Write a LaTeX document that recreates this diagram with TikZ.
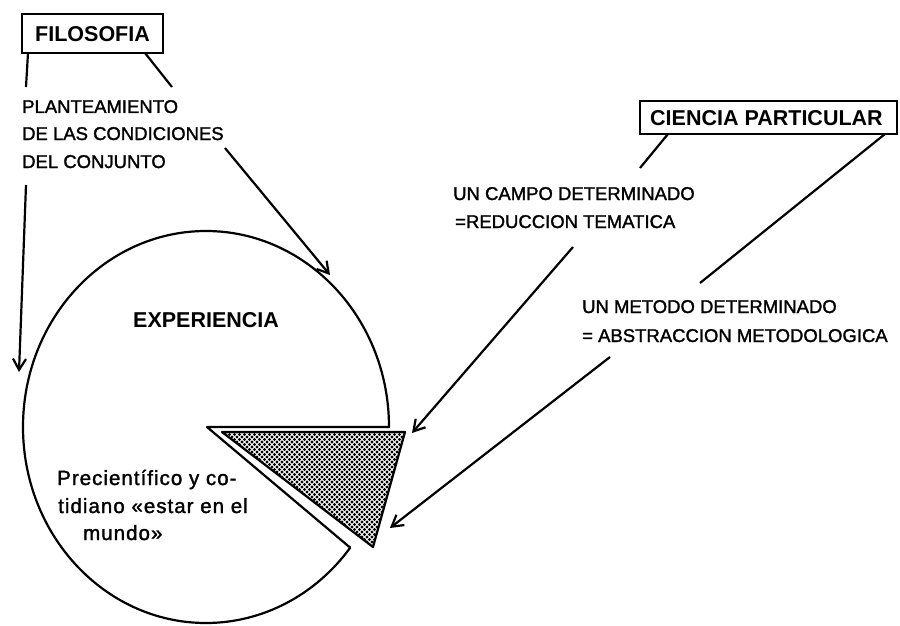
\documentclass[tikz,border=0pt]{standalone}
\usepackage{fontspec}
\setmainfont{Liberation Sans}
\usetikzlibrary{arrows.meta}
\tikzset{
  lbl/.style={anchor=base west, inner sep=0pt, font=\fontsize{18.5}{22}\selectfont\addfontfeature{FakeBold=1.5}},
  lowlbl/.style={anchor=base west, inner sep=0pt, font=\fontsize{20.5}{24}\selectfont\addfontfeature{FakeBold=1.5,LetterSpace=5}},
  title/.style={anchor=base west, inner sep=0pt, font=\fontsize{21.5}{26}\selectfont\bfseries},
  boxn/.style={draw, line width=2.2pt, inner sep=0pt},
  ln/.style={line width=2.2pt},
  arr/.style={line width=2.2pt, -{Straight Barb[length=11pt,width=13pt,line width=2.2pt]}},
  dotfill/.style={fill=black},
}
\begin{document}
\begin{tikzpicture}[x=1pt,y=-1pt]
\useasboundingbox (0,0) rectangle (900,626);
% boxes
\node[boxn, minimum width=141pt, minimum height=39pt] (filo) at (92.5,33.5) {};
\node[title] (filot) at (35,42) {FILOSOFIA};
\node[boxn, minimum width=257pt, minimum height=33pt] (cien) at (768.5,117.5) {};
\node[title] (ciet) at (650,125) {CIENCIA PARTICULAR};
% texts
\node[lbl] (pl1) at (22,113) {PLANTEAMIENTO};
\node[lbl] (pl2) at (22,140) {DE LAS CONDICIONES};
\node[lbl] (pl3) at (22,168) {DEL CONJUNTO};
\node[lbl] (ca1) at (453,200) {UN CAMPO DETERMINADO};
\node[lbl] (ca2) at (455,228) {=REDUCCION TEMATICA};
\node[lbl] (me1) at (582,313) {UN METODO DETERMINADO};
\node[lbl] (me2) at (582,342) {= ABSTRACCION METODOLOGICA};
\node[title] (exp) at (133,327) {EXPERIENCIA};
\node[lowlbl] (pr1) at (57,485) {Precientífico y co-};
\node[lowlbl] (pr2) at (58,513) {tidiano «estar en el};
\node[lowlbl] (pr3) at (83,540) {mundo»};
% pie
\coordinate (ctr) at (207,427);
\draw[ln, line join=round] (389,427) arc[start angle=0, end angle=-322, x radius=183, y radius=196] -- (ctr) -- cycle;
% shaded wedge
\coordinate (w1) at (222,432);
\coordinate (w2) at (405,432);
\coordinate (w3) at (373,547);
\begin{scope}
  \clip (w1) -- (w2) -- (w3) -- cycle;
  \foreach \i in {0,...,37} {
    \foreach \j in {0,...,23} {
      \fill[dotfill] (222+5*\i,432+5*\j) circle (1.7);
      \fill[dotfill] (224.5+5*\i,434.5+5*\j) circle (1.7);
    }
  }
\end{scope}
\draw[ln, line join=round] (w1) -- (w2) -- (w3) -- cycle;
% connectors
\coordinate (f1a) at (28,53); \coordinate (f1b) at (26,87);
\coordinate (f1c) at (26,185); \coordinate (f1d) at (19,372);
\coordinate (f2a) at (145,53); \coordinate (f2b) at (172,87);
\coordinate (f2c) at (225,148); \coordinate (f2d) at (330,275);
\coordinate (c1a) at (668,134); \coordinate (c1b) at (640,168);
\coordinate (c1c) at (573,247); \coordinate (c1d) at (412,433);
\coordinate (c2a) at (885,134); \coordinate (c2b) at (700,283);
\coordinate (c2c) at (610,357); \coordinate (c2d) at (390,528);
\draw[ln] (f1a) -- (f1b);
\draw[arr] (f1c) -- (f1d);
\draw[ln] (f2a) -- (f2b);
\draw[arr] (f2c) -- (f2d);
\draw[ln] (c1a) -- (c1b);
\draw[arr] (c1c) -- (c1d);
\draw[ln] (c2a) -- (c2b);
\draw[arr] (c2c) -- (c2d);
\end{tikzpicture}
\end{document}
